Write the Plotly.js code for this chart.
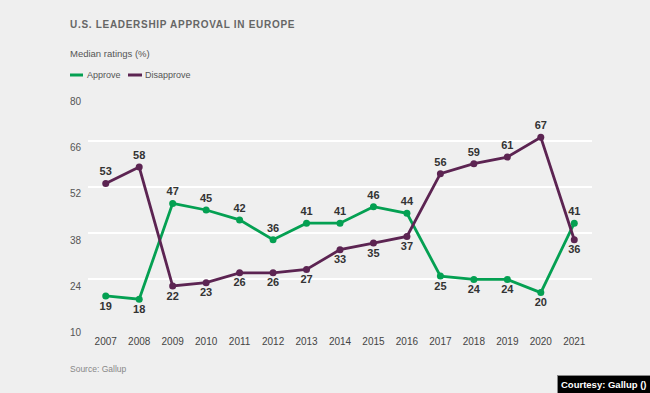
<!DOCTYPE html>
<html>
<head>
<meta charset="utf-8">
<script src="https://cdn.plot.ly/plotly-3.0.1.min.js"></script>
<style>
html, body { margin: 0; padding: 0; background: #efefef; }
#chart { width: 650px; height: 393px; }
.gtitle { letter-spacing: 0.7px; }
</style>
</head>
<body>
<div id="chart"></div>
<script>
// ---- data ----
const years = [2007, 2008, 2009, 2010, 2011, 2012, 2013, 2014, 2015, 2016, 2017, 2018, 2019, 2020, 2021];
const yearLabels = years.map(String);
const approve = [19, 18, 47, 45, 42, 36, 41, 41, 46, 44, 25, 24, 24, 20, 41];
const disapprove = [53, 58, 22, 23, 26, 26, 27, 33, 35, 37, 56, 59, 61, 67, 36];
const approvePos = ['b','b','t','t','t','t','t','t','t','t','b','b','b','b','t'];
const disapprovePos = ['t','t','b','b','b','b','b','b','b','b','t','t','t','t','b'];
const yTicks = [10, 24, 38, 52, 66, 80];
const seriesNames = ['Approve', 'Disapprove'];
const titleText = 'U.S. LEADERSHIP APPROVAL IN EUROPE';
const subtitleText = 'Median ratings (%)';
const sourceText = 'Source: Gallup';
const courtesyText = 'Courtesy: Gallup ()';

// ---- styling ----
const W = 650, H = 393;
const M = {l: 88, r: 58, t: 94, b: 67};
const pw = W - M.l - M.r, ph = H - M.t - M.b;
const green = '#04a052';
const purple = '#5c2452';
const font = 'Liberation Sans, Arial, sans-serif';
const px2x = x => (x - M.l) / pw;
const px2y = y => 1 - (y - M.t) / ph;
const posMap = {t: 'top center', b: 'bottom center'};

function trace(name, vals, pos, color) {
  return {
    x: years, y: vals, name: name, type: 'scatter', mode: 'lines+markers+text',
    line: {color: color, width: 2.8},
    marker: {color: color, size: 7},
    text: vals.map(String),
    textposition: pos.map(p => posMap[p]),
    textfont: {family: font, size: 11, color: '#333', weight: 'bold'},
    cliponaxis: false, showlegend: false, hoverinfo: 'skip'
  };
}

const data = [
  trace(seriesNames[0], approve, approvePos, green),
  trace(seriesNames[1], disapprove, disapprovePos, purple)
];

const legendItems = [
  {name: seriesNames[0], color: green, x0: 70, x1: 83, tx: 85},
  {name: seriesNames[1], color: purple, x0: 128, x1: 142, tx: 143}
];
const legendY = 75;

const shapes = legendItems.map(it => ({
  type: 'line', xref: 'paper', yref: 'paper',
  x0: px2x(it.x0), x1: px2x(it.x1), y0: px2y(legendY), y1: px2y(legendY),
  line: {color: it.color, width: 3}
}));

const annotations = [
  {text: subtitleText, xref: 'paper', yref: 'paper', x: px2x(68), y: px2y(53),
   xanchor: 'left', yanchor: 'middle', showarrow: false,
   font: {family: font, size: 9.5, color: '#555'}},
  {text: sourceText, xref: 'paper', yref: 'paper', x: px2x(68), y: px2y(369),
   xanchor: 'left', yanchor: 'middle', showarrow: false,
   font: {family: font, size: 8.5, color: '#888'}},
  {text: '<b>' + courtesyText + '</b>', xref: 'paper', yref: 'paper', x: px2x(651), y: px2y(394),
   xanchor: 'right', yanchor: 'bottom', showarrow: false,
   font: {family: font, size: 9.5, color: '#fff'},
   bgcolor: '#000', bordercolor: '#888', borderwidth: 1, borderpad: 3}
].concat(legendItems.map(it => ({
  text: it.name, xref: 'paper', yref: 'paper', x: px2x(it.tx), y: px2y(legendY),
  xanchor: 'left', yanchor: 'middle', showarrow: false,
  font: {family: font, size: 9, color: '#555'}
})));

const layout = {
  width: W, height: H,
  margin: M,
  paper_bgcolor: '#efefef', plot_bgcolor: '#efefef',
  title: {text: titleText, xref: 'container', yref: 'container',
    x: 70 / W, xanchor: 'left', y: 1 - 24 / H, yanchor: 'middle',
    font: {family: font, size: 10, color: '#666', weight: 'bold'}},
  xaxis: {
    range: [years[0] - 0.53, years[years.length - 1] + 0.53],
    tickvals: years, ticktext: yearLabels,
    showgrid: false, zeroline: false, showline: false, ticks: '',
    tickfont: {family: font, size: 10, color: '#444'},
    ticklabelstandoff: 8, fixedrange: true
  },
  yaxis: {
    range: [9.9, 80.1],
    tickvals: yTicks, ticktext: yTicks.map(String),
    showgrid: true, gridcolor: '#ffffff', gridwidth: 2,
    zeroline: false, showline: false, ticks: '',
    ticklabelposition: 'outside bottom',
    tickfont: {family: font, size: 10, color: '#555'},
    ticklabelstandoff: 6, fixedrange: true
  },
  shapes: shapes,
  annotations: annotations,
  showlegend: false
};

Plotly.newPlot('chart', data, layout, {displayModeBar: false, staticPlot: true});
</script>
</body>
</html>
